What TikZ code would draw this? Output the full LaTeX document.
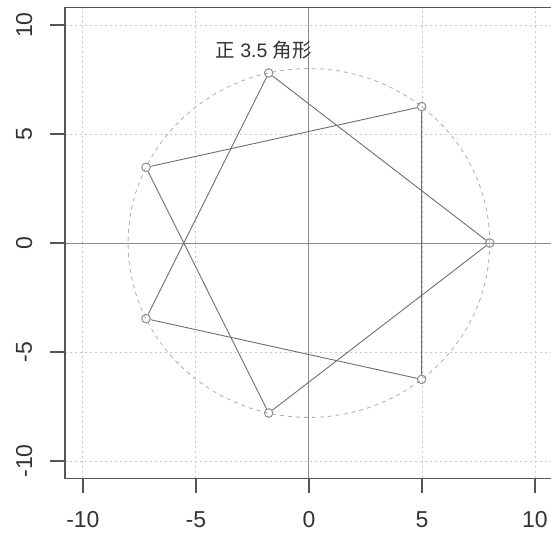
\documentclass[tikz,border=0pt]{standalone}
\usepackage{fontspec}
\setmainfont{Liberation Sans}
\newfontfamily\cjk{Noto Sans CJK SC}
\definecolor{AxisGray}{HTML}{555555}
\definecolor{ZeroGray}{HTML}{8C8C8C}
\definecolor{LineGray}{HTML}{6E6E6E}
\definecolor{GridGray}{HTML}{C8C8C8}
\definecolor{RingGray}{HTML}{ADADAD}
\definecolor{TextGray}{HTML}{333333}

\begin{document}
\begin{tikzpicture}[x=22.6pt,y=21.8pt,
    grid/.style={draw=GridGray,line width=0.8pt,dash pattern=on 2.5pt off 2.5pt},
    ring/.style={draw=RingGray,line width=0.8pt,dash pattern=on 4pt off 4pt},
    vertex/.style={circle,draw=ZeroGray,line width=1pt,inner sep=0pt,minimum size=8.5pt},
    edge/.style={draw=LineGray,line width=0.9pt},
    tick/.style={draw=AxisGray,line width=1.3pt},
    ticklabel/.style={font=\fontsize{23}{27}\selectfont,text=TextGray}
  ]
  \useasboundingbox (-13.668,-13.303) rectangle (10.712,11.147);
  \clip (-13.668,-13.303) rectangle (10.712,11.147);
  % grid
  \foreach \v in {-10,-5,5,10} {
    \draw[grid] (\v,-10.8) -- (\v,10.8);
    \draw[grid] (-10.8,\v) -- (10.8,\v);
  }
  \draw[draw=ZeroGray,line width=1pt] (0,-10.8) -- (0,10.8);
  \draw[draw=ZeroGray,line width=1pt] (-10.8,0) -- (10.8,0);
  % circle of radius 8
  \draw[ring] (0,0) ellipse [x radius=180.8pt,y radius=174.4pt];
  % star polygon {7/2}
  \foreach \k in {0,...,6}
    \node[vertex] (p\k) at ({\k*720/7}:8) {};
  \foreach \a/\b in {0/1,1/2,2/3,3/4,4/5,5/6,6/0}
    \draw[edge] (p\a) -- (p\b);
  \node[font=\fontsize{19.5}{23}\selectfont,text=TextGray] (title) at (-2,8.85)
    {{\cjk 正} 3.5 {\cjk 角形}};
  % frame, ticks and labels
  \draw[draw=AxisGray,line width=1.5pt] (-10.8,-10.8) rectangle (10.8,10.8);
  \foreach \v in {-10,-5,0,5,10} {
    \draw[tick] (\v,-10.8) -- (\v,-11.47);
    \node[ticklabel] (xl\v) at (\v,-12.7) {\v};
    \draw[tick] (-10.8,\v) -- (-11.46,\v);
    \node[ticklabel,rotate=90] (yl\v) at (-12.6,\v) {\v};
  }
\end{tikzpicture}
\end{document}
